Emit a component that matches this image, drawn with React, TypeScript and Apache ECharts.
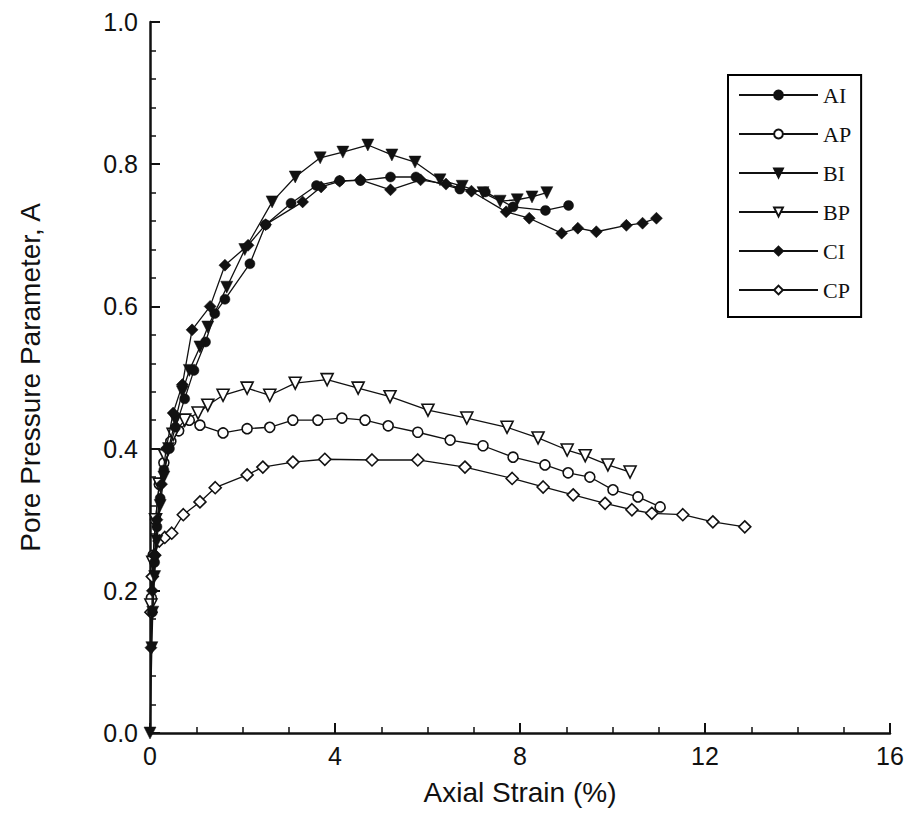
import React, { useEffect, useRef } from "react";
import * as echarts from "echarts";

const seriesNames = ["AI", "AP", "BI", "BP", "CI", "CP"];

const dataAI: number[][] = [
  [0.05, 0.17], [0.1, 0.24], [0.15, 0.29], [0.22, 0.33], [0.3, 0.37], [0.42, 0.4],
  [0.55, 0.43], [0.75, 0.47], [0.95, 0.51], [1.2, 0.55], [1.4, 0.59], [1.62, 0.61],
  [2.16, 0.66], [2.5, 0.715], [3.05, 0.745], [3.6, 0.77], [4.1, 0.777], [4.55, 0.777],
  [5.2, 0.782], [5.75, 0.782], [6.7, 0.765], [7.25, 0.761], [7.85, 0.74], [8.55, 0.735],
  [9.05, 0.742],
];

const dataAP: number[][] = [
  [0.03, 0.19], [0.07, 0.25], [0.12, 0.3], [0.2, 0.35], [0.3, 0.38], [0.45, 0.41],
  [0.62, 0.425], [0.85, 0.44], [1.08, 0.433], [1.58, 0.422], [2.1, 0.428], [2.59, 0.43],
  [3.09, 0.44], [3.63, 0.44], [4.15, 0.443], [4.65, 0.44], [5.15, 0.432], [5.79, 0.423],
  [6.49, 0.412], [7.2, 0.404], [7.85, 0.388], [8.54, 0.377], [9.04, 0.366], [9.51, 0.36],
  [10.01, 0.342], [10.55, 0.332], [11.03, 0.318],
];

const dataBI: number[][] = [
  [0, 0], [0.04, 0.12], [0.06, 0.17], [0.1, 0.22], [0.15, 0.27], [0.22, 0.32],
  [0.3, 0.36], [0.4, 0.4], [0.55, 0.44], [0.7, 0.48], [0.85, 0.51], [1.08, 0.543],
  [1.25, 0.571], [1.66, 0.627], [2.05, 0.68], [2.64, 0.747], [3.14, 0.782], [3.68, 0.809],
  [4.17, 0.817], [4.71, 0.827], [5.23, 0.813], [5.73, 0.803], [6.27, 0.778], [6.75, 0.769],
  [7.2, 0.76], [7.57, 0.748], [7.94, 0.75], [8.26, 0.754], [8.58, 0.76],
];

const dataBP: number[][] = [
  [0.02, 0.18], [0.06, 0.24], [0.12, 0.3], [0.2, 0.35], [0.32, 0.39], [0.5, 0.42],
  [0.75, 0.44], [1.04, 0.45], [1.25, 0.461], [1.58, 0.475], [2.1, 0.485], [2.59, 0.475],
  [3.14, 0.492], [3.83, 0.497], [4.5, 0.485], [5.19, 0.473], [6.01, 0.454], [6.85, 0.443],
  [7.72, 0.43], [8.39, 0.415], [9.02, 0.398], [9.41, 0.39], [9.9, 0.377], [10.38, 0.367],
];

const dataCI: number[][] = [
  [0.02, 0.12], [0.05, 0.2], [0.1, 0.25], [0.15, 0.3], [0.25, 0.35], [0.35, 0.4],
  [0.5, 0.45], [0.7, 0.49], [0.91, 0.567], [1.3, 0.6], [1.62, 0.658], [2.12, 0.686],
  [2.5, 0.715], [3.3, 0.747], [3.7, 0.768], [4.1, 0.776], [4.55, 0.778], [5.2, 0.764],
  [5.85, 0.778], [6.4, 0.772], [6.95, 0.762], [7.7, 0.733], [8.2, 0.724], [8.9, 0.703],
  [9.25, 0.71], [9.65, 0.705], [10.3, 0.714], [10.65, 0.717], [10.95, 0.724],
];

const dataCP: number[][] = [
  [0.02, 0.17], [0.05, 0.22], [0.1, 0.25], [0.2, 0.27], [0.32, 0.275], [0.47, 0.281],
  [0.72, 0.307], [1.08, 0.325], [1.41, 0.345], [2.1, 0.363], [2.44, 0.374], [3.09, 0.381],
  [3.78, 0.385], [4.8, 0.384], [5.79, 0.384], [6.81, 0.374], [7.83, 0.358], [8.5, 0.346],
  [9.15, 0.335], [9.84, 0.323], [10.42, 0.314], [10.85, 0.309], [11.52, 0.307],
  [12.17, 0.297], [12.86, 0.29],
];

const xTicks = [0, 4, 8, 12, 16];
const yTicks = [0, 0.2, 0.4, 0.6, 0.8, 1.0];

const allData = [dataAI, dataAP, dataBI, dataBP, dataCI, dataCP];
const symbols = ["circle", "circle", "triangle", "triangle", "diamond", "diamond"];
const rotates = [0, 0, 180, 180, 0, 0];
const filled = [true, false, true, false, true, false];
const sizes = [10, 10, 12, 12, 12, 12];

export default function App() {
  const ref = useRef<HTMLDivElement>(null);
  useEffect(() => {
    if (!ref.current) return;
    const chart = echarts.init(ref.current, null, { renderer: "svg" });
    const series = seriesNames.map((name, i) => ({
      name,
      type: "line",
      data: allData[i],
      symbol: symbols[i],
      symbolRotate: rotates[i],
      symbolSize: sizes[i],
      showAllSymbol: true,
      clip: false,
      lineStyle: { color: "#111", width: 1.3 },
      itemStyle: {
        color: filled[i] ? "#111" : "#fff",
        borderColor: "#111",
        borderWidth: filled[i] ? 0.5 : 1.6,
      },
      z: filled[i] ? 3 : 2,
    }));
    chart.setOption({
      animation: false,
      backgroundColor: "#fff",
      grid: { left: 142, right: 15, top: 14, bottom: 99, containLabel: false, outerBoundsMode: "none" },
      legend: {
        orient: "vertical",
        left: 720,
        top: 67,
        padding: [9, 10, 16, 10],
        borderColor: "#000",
        borderWidth: 2,
        itemWidth: 79,
        itemHeight: 11,
        itemGap: 17,
        data: seriesNames,
        textStyle: {
          fontFamily: "Liberation Serif",
          fontSize: 22,
          color: "#111",
          lineHeight: 22,
        },
      },
      xAxis: {
        type: "value",
        min: xTicks[0],
        max: xTicks[xTicks.length - 1],
        interval: 4,
        name: "Axial Strain (%)",
        nameLocation: "middle",
        nameGap: 45,
        nameTextStyle: { fontFamily: "Liberation Sans", fontSize: 28, color: "#111" },
        axisLine: { show: true, lineStyle: { color: "#111", width: 2.5 } },
        axisTick: { show: true, inside: true, length: 10, lineStyle: { width: 2, color: "#111" } },
        minorTick: { show: true, splitNumber: 4, length: 6, lineStyle: { width: 1.5, color: "#111" } },
        axisLabel: {
          fontFamily: "Liberation Sans",
          fontSize: 25,
          color: "#111",
          margin: 10,
        },
        splitLine: { show: false },
      },
      yAxis: {
        type: "value",
        min: yTicks[0],
        max: yTicks[yTicks.length - 1],
        interval: 0.2,
        name: "Pore Pressure Parameter, A",
        nameLocation: "middle",
        nameGap: 106,
        nameTextStyle: { fontFamily: "Liberation Sans", fontSize: 28, color: "#111" },
        axisLine: { show: true, lineStyle: { color: "#111", width: 2.5 } },
        axisTick: { show: true, inside: true, length: 10, lineStyle: { width: 2, color: "#111" } },
        minorTick: { show: true, splitNumber: 5, length: 6, lineStyle: { width: 1.5, color: "#111" } },
        axisLabel: {
          fontFamily: "Liberation Sans",
          fontSize: 25,
          color: "#111",
          margin: 12,
          formatter: (v: number) => v.toFixed(1),
        },
        splitLine: { show: false },
      },
      series,
    });
    return () => chart.dispose();
  }, []);
  return <div ref={ref} style={{ width: 897, height: 824 }} />;
}
